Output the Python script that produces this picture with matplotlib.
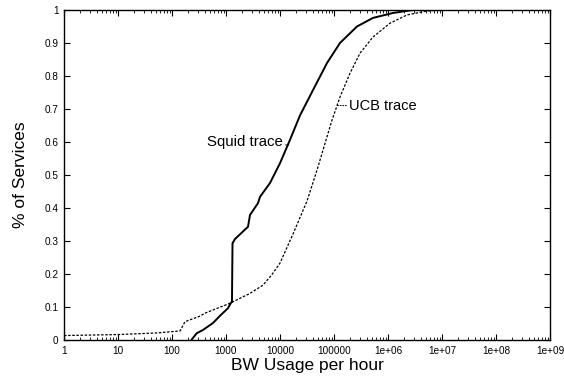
import numpy as np
import matplotlib
matplotlib.use('Agg')
import matplotlib.pyplot as plt
from matplotlib.ticker import LogLocator

plt.rcParams['font.family'] = ['Liberation Sans', 'DejaVu Sans']

# datos
squid_x = [232, 287, 375, 574, 774, 1089, 1222, 1290, 1320, 1468, 2400, 2555,
           2783, 3917, 4266, 6531, 10000, 15310, 23440, 40840, 74130, 129200,
           266700, 527000, 1.24e6, 2.9e6, 1e7]
squid_y = [0.0, 0.019, 0.029, 0.05, 0.072, 0.095, 0.11, 0.115, 0.292, 0.305,
           0.338, 0.342, 0.378, 0.414, 0.433, 0.475, 0.535, 0.606, 0.68, 0.757,
           0.839, 0.9, 0.95, 0.976, 0.991, 1.0, 1.0]

ucb_x = [1, 10, 52.7, 141, 174, 330, 408, 1186, 2783, 4843, 7020, 10000,
         17400, 31600, 48400, 60000, 91900, 129200, 197700, 303000, 527000,
         1.09e6, 2.25e6, 5.27e6, 1e7]
ucb_y = [0.012, 0.015, 0.02, 0.026, 0.054, 0.071, 0.08, 0.11, 0.14, 0.165,
         0.196, 0.232, 0.32, 0.42, 0.514, 0.565, 0.666, 0.736, 0.808, 0.869,
         0.918, 0.96, 0.985, 0.997, 1.0]

xticks = [1, 10, 100, 1000, 10000, 100000, 1e6, 1e7, 1e8, 1e9]
xtick_labels = ['1', '10', '100', '1000', '10000', '100000',
                '1e+06', '1e+07', '1e+08', '1e+09']
yticks = np.round(np.arange(0, 1.01, 0.1), 1)
ytick_labels = ['0', '0.1', '0.2', '0.3', '0.4', '0.5', '0.6', '0.7', '0.8', '0.9', '1']

fig = plt.figure(figsize=(5.64, 3.77), dpi=100)
ax = fig.add_axes([64/564, 37.5/377, 486/564, 329.5/377])

ax.plot(squid_x, squid_y, '-', color='black', lw=1.4)
ax.plot(ucb_x, ucb_y, color='black', lw=0.9, linestyle=(0, (2, 1.3)))

ax.set_xscale('log')
ax.set_xlim(1, 1e9)
ax.set_ylim(0, 1)
ax.set_xticks(xticks)
ax.set_xticklabels(xtick_labels)
ax.xaxis.set_minor_locator(LogLocator(base=10, subs=np.arange(2, 10), numticks=20))
ax.xaxis.set_minor_formatter(plt.NullFormatter())
ax.set_yticks(yticks)
ax.set_yticklabels(ytick_labels)

ax.tick_params(which='both', direction='in', top=True, right=True, labelsize=7.2)
ax.tick_params(axis='x', pad=5)
ax.tick_params(axis='y', pad=4)
ax.tick_params(which='major', length=4, width=0.8)
ax.tick_params(which='minor', length=2, width=0.6)
for s in ax.spines.values():
    s.set_linewidth(1.0)

ax.set_xlabel('BW Usage per hour', fontsize=12.5, labelpad=1)
ax.set_ylabel('% of Services', fontsize=12.5, labelpad=12)

# etiquetas de las curvas
ax.annotate('Squid trace', xy=(14500, 0.59), xytext=(11300, 0.6),
            ha='right', va='center', fontsize=10.8,
            arrowprops=dict(arrowstyle='-', linestyle=':', lw=0.7, color='black',
                            shrinkA=0, shrinkB=0))
ax.annotate('UCB trace', xy=(113700, 0.71), xytext=(190000, 0.71),
            ha='left', va='center', fontsize=10.5,
            arrowprops=dict(arrowstyle='-', linestyle=':', lw=0.7, color='black',
                            shrinkA=0, shrinkB=0))

fig.savefig('out.png', dpi=100)
